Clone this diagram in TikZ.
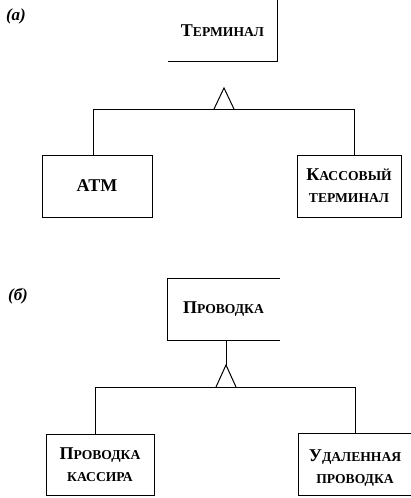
\documentclass[tikz,border=0pt]{standalone}
\usepackage{fontspec}
\setmainfont{Liberation Serif}
\newcommand\Bg[1]{{\fontsize{18}{22}\selectfont #1}}
\begin{document}
\begin{tikzpicture}[x=1pt,y=-1pt,line width=1pt,
  box/.style={inner sep=0pt,align=center,font=\fontsize{13.6}{22}\selectfont\bfseries},
  fullbox/.style={box,draw},
  lbl/.style={font=\fontsize{17}{20}\selectfont\bfseries\itshape},
  link/.style={draw,line width=1pt}]
\useasboundingbox (0,0) rectangle (410,498);
% (a)
\node[lbl] (la) at (16,16) {(а)};
\node[box,minimum width=109pt,minimum height=61pt] (term) at (222.5,30.5) {\Bg{Т}ЕРМИНАЛ};
\draw (term.north east) -- (term.south east) -- (term.south west);
\node[fullbox,minimum width=110pt,minimum height=62pt] (atm) at (97,186) {\Bg{ATM}};
\node[fullbox,minimum width=104pt,minimum height=62pt] (kass) at (349,186) {\Bg{К}АССОВЫЙ\\ТЕРМИНАЛ};
\coordinate (apa) at (224,88);
\coordinate (bla) at (214,109);
\coordinate (bra) at (234,109);
\coordinate (la1) at (93,109);
\coordinate (ra1) at (354,109);
\draw (bla) -- (apa) -- (bra);
\draw (la1 |- atm.north) -- (la1) -- (ra1) -- (ra1 |- kass.north);
% (b)
\node[lbl] (lb) at (18,296) {(б)};
\node[box,minimum width=111pt,minimum height=61pt] (prov) at (223.5,309.5) {\Bg{П}РОВОДКА};
\draw (prov.north east) -- (prov.north west) -- (prov.south west) -- (prov.south east);
\coordinate (apb) at (226,365);
\coordinate (blb) at (216,387);
\coordinate (brb) at (236,387);
\coordinate (lb1) at (95,387);
\coordinate (rb1) at (355,387);
\draw (prov.south -| apb) -- (apb);
\draw (blb) -- (apb) -- (brb);
\node[fullbox,minimum width=108pt,minimum height=61pt] (kassir) at (100,464.5) {\Bg{П}РОВОДКА\\КАССИРА};
\node[box,minimum width=115pt,minimum height=61pt] (udal) at (356.5,464.5) {};
\node[box] (udaltext) at (355,468) {\Bg{У}ДАЛЕННАЯ\\ПРОВОДКА};
\draw (udal.north east) -- (udal.north west) -- (udal.south west) -- (udal.south east);
\draw (lb1 |- kassir.north) -- (lb1) -- (rb1) -- (rb1 |- udal.north);
\end{tikzpicture}
\end{document}
